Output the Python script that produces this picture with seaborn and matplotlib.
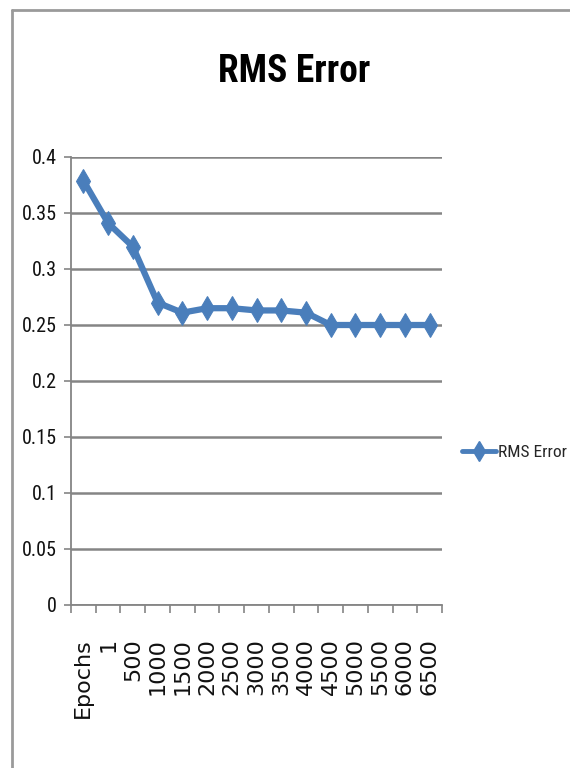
import numpy as np
import pandas as pd
import matplotlib
matplotlib.use("Agg")
import matplotlib.pyplot as plt
from matplotlib import font_manager as fm
from matplotlib.lines import Line2D
import seaborn as sns

epochs = ["Epochs", "1", "500", "1000", "1500", "2000", "2500", "3000",
          "3500", "4000", "4500", "5000", "5500", "6000", "6500"]
rms_error = [0.379, 0.341, 0.320, 0.270, 0.261, 0.265, 0.265, 0.263,
             0.263, 0.261, 0.250, 0.250, 0.250, 0.250, 0.250]
y_ticks = [0, 0.05, 0.1, 0.15, 0.2, 0.25, 0.3, 0.35, 0.4]
y_labels = ["0", "0.05", "0.1", "0.15", "0.2", "0.25", "0.3", "0.35", "0.4"]
series_name = "RMS Error"

sns.set_style("white")
plt.rcParams["font.family"] = ["DejaVu Sans"]

installed = {f.name for f in fm.fontManager.ttflist}
narrow_candidates = ["Liberation Sans Narrow", "Roboto Condensed",
                     "Open Sans Condensed", "Noto Sans Condensed",
                     "DejaVu Sans Condensed"]
narrow_name = next((n for n in narrow_candidates if n in installed), None)
if narrow_name:
    narrow = [narrow_name, "DejaVu Sans"]
    scale = 1.0
else:
    narrow = ["Liberation Sans", "DejaVu Sans"]
    scale = 0.85

blue = "#4A7EBB"
grid_c = "#858585"

fig = plt.figure(figsize=(5.7, 7.68), dpi=100)
ax = fig.add_axes([71 / 570, 1 - 605 / 768, 371 / 570, 448 / 768])

df = pd.DataFrame({"pos": np.arange(len(epochs)), "rms": rms_error})
sns.lineplot(data=df, x="pos", y="rms", ax=ax, color=blue, linewidth=4.5,
             marker="d", markersize=12, markeredgecolor=blue,
             markerfacecolor=blue, legend=False)

ax.set_xlim(-0.5, len(epochs) - 0.5)
ax.set_ylim(0, 0.4)
ax.set_xlabel("")
ax.set_ylabel("")

# gridlines
ax.set_yticks(y_ticks)
ax.set_yticklabels(y_labels, fontfamily=narrow, fontsize=14.5 * scale,
                   color="#111111")
ax.yaxis.grid(True, color=grid_c, linewidth=1.8)
ax.set_axisbelow(True)

# x ticks at category boundaries, labels at centers
ax.set_xticks(np.arange(-0.5, len(epochs), 1.0))
ax.set_xticklabels([])
ax.set_xticks(np.arange(len(epochs)), minor=True)
ax.set_xticklabels(epochs, minor=True, rotation=90, fontsize=16,
                   color="#111111", va="top")
ax.tick_params(axis="x", which="major", length=6, width=1.2, color=grid_c,
               direction="out", bottom=True)
ax.tick_params(axis="x", which="minor", length=0, pad=24)
ax.tick_params(axis="y", length=5, width=1.2, color=grid_c, direction="out",
               left=True, pad=5)

for s in ["top", "right"]:
    ax.spines[s].set_visible(False)
for s in ["left", "bottom"]:
    ax.spines[s].set_color(grid_c)
    ax.spines[s].set_linewidth(1.3)

# title
fig.text(294 / 570, 1 - 72 / 768, "RMS Error", ha="center", va="center",
         fontsize=27 * scale, fontweight="bold", fontfamily=narrow,
         color="#000000")

# legend
handle = Line2D([], [], color=blue, linewidth=3.5, marker="d", markersize=10,
                markerfacecolor=blue, markeredgecolor=blue)
leg = fig.legend([handle], [series_name], loc="center left",
                 bbox_to_anchor=(460 / 570, 1 - 452 / 768), frameon=False,
                 handlelength=2.0, handletextpad=0.1, borderpad=0.1,
                 borderaxespad=0.0,
                 prop={"family": narrow, "size": 12.5 * scale})

# outer chart border
fig.add_artist(Line2D([12 / 570, 1.0], [1 - 10 / 768, 1 - 10 / 768],
                      transform=fig.transFigure, color="#9A9A9A", linewidth=2))
fig.add_artist(Line2D([12 / 570, 12 / 570], [0, 1 - 10 / 768],
                      transform=fig.transFigure, color="#9A9A9A", linewidth=2))

fig.savefig("out.png", dpi=100, facecolor="white")
